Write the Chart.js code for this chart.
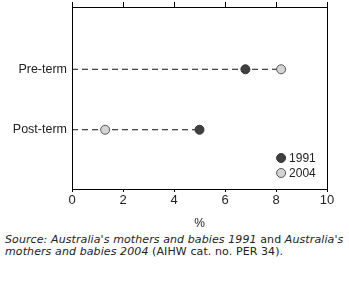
<!DOCTYPE html>
<html>
<head>
<meta charset="utf-8">
<script src="https://cdn.jsdelivr.net/npm/chart.js@4/dist/chart.umd.min.js"></script>
<style>
  html, body { margin: 0; padding: 0; background: #fff; }
  body { width: 349px; height: 286px; overflow: hidden; font-family: 'Liberation Sans', Arial, sans-serif; color: #222; }
  #wrap { position: relative; width: 349px; height: 231px; }
  #source { font-family: 'DejaVu Sans', sans-serif; font-size: 11px; line-height: 12px; margin: 3px 0 0 5px; letter-spacing: 0.1px; white-space: nowrap; }
</style>
</head>
<body>
<div id="wrap"><canvas id="chart" width="349" height="231"></canvas></div>
<div id="source"><i>Source: Australia's mothers and babies 1991</i> and <i>Australia's</i><br><i>mothers and babies 2004</i> (AIHW cat. no. PER 34).</div>
<script>
// 범주와 값
const categories = ['Pre-term', 'Post-term'];
const seriesNames = ['1991', '2004'];
const values1991 = [6.8, 5.0];
const values2004 = [8.2, 1.3];
const xTicks = [0, 2, 4, 6, 8, 10];

const darkFill = '#404040';
const lightFill = '#d4d4d4';

// category index -> y position (1, 2 ...)
const catPos = categories.map((c, i) => i + 1);

// dashed guide lines from 0 to the larger value
const guideSets = categories.map((c, i) => ({
  type: 'line',
  label: '_guide' + i,
  data: [{ x: 0, y: catPos[i] }, { x: Math.max(values1991[i], values2004[i]), y: catPos[i] }],
  borderColor: '#111',
  borderWidth: 1,
  borderDash: [6, 4],
  pointRadius: 0,
  fill: false,
  order: 3
}));

const pointSets = [
  {
    type: 'scatter',
    label: seriesNames[0],
    data: values1991.map((v, i) => ({ x: v, y: catPos[i] })),
    backgroundColor: darkFill,
    borderColor: '#333',
    borderWidth: 1,
    pointRadius: 4.5,
    order: 1
  },
  {
    type: 'scatter',
    label: seriesNames[1],
    data: values2004.map((v, i) => ({ x: v, y: catPos[i] })),
    backgroundColor: lightFill,
    borderColor: '#555',
    borderWidth: 1,
    pointRadius: 4.5,
    order: 1
  }
];

// legend inside the plot, bottom right
const innerLegend = {
  id: 'innerLegend',
  afterDraw(chart) {
    const ctx = chart.ctx;
    const area = chart.chartArea;
    const mx = chart.scales.x.getPixelForValue(8.2);
    const rows = [
      { text: seriesNames[0], fill: darkFill, stroke: '#333', y: area.bottom - 31 },
      { text: seriesNames[1], fill: lightFill, stroke: '#555', y: area.bottom - 16 }
    ];
    ctx.save();
    ctx.font = '12px "Liberation Sans", Arial, sans-serif';
    ctx.textBaseline = 'middle';
    rows.forEach(r => {
      ctx.beginPath();
      ctx.arc(mx, r.y, 4.5, 0, Math.PI * 2);
      ctx.fillStyle = r.fill;
      ctx.fill();
      ctx.lineWidth = 1;
      ctx.strokeStyle = r.stroke;
      ctx.stroke();
      ctx.fillStyle = '#222';
      ctx.fillText(r.text, mx + 8, r.y + 1);
    });
    ctx.restore();
  }
};

Chart.defaults.font.family = "'Liberation Sans', Arial, sans-serif";
Chart.defaults.font.size = 12;
Chart.defaults.color = '#222';

new Chart(document.getElementById('chart').getContext('2d'), {
  data: { datasets: [...guideSets, ...pointSets] },
  options: {
    responsive: false,
    animation: false,
    layout: { padding: { top: 2, right: 0, left: 0, bottom: 0 } },
    plugins: { legend: { display: false }, tooltip: { enabled: false } },
    scales: {
      x: {
        type: 'linear',
        position: 'bottom',
        min: 0, max: 10,
        afterBuildTicks: s => { s.ticks = xTicks.map(v => ({ value: v })); },
        ticks: { padding: 1, color: '#222', font: { size: 13 } },
        grid: { drawOnChartArea: false, drawTicks: true, tickLength: 3, color: '#000', lineWidth: 1 },
        border: { color: '#000', width: 1 },
        title: { display: true, text: '%', color: '#222', font: { size: 12 }, padding: { top: 7, bottom: 0 } }
      },
      xTop: {
        type: 'linear',
        position: 'top',
        min: 0, max: 10,
        afterBuildTicks: s => { s.ticks = xTicks.map(v => ({ value: v })); },
        ticks: { display: false },
        grid: { drawOnChartArea: false, drawTicks: true, tickLength: 5, color: '#000', lineWidth: 1 },
        border: { color: '#000', width: 1 },
        afterFit: s => { s.height = 5; }
      },
      y: {
        type: 'linear',
        position: 'left',
        reverse: true,
        min: -0.03, max: 2.98,
        afterBuildTicks: s => { s.ticks = catPos.map(v => ({ value: v })); },
        ticks: { padding: 5, color: '#222', font: { size: 12.5 }, callback: v => categories[v - 1] || '' },
        grid: { drawOnChartArea: false, drawTicks: false },
        border: { color: '#000', width: 1 },
        afterFit: s => { s.width = 72; s.paddingTop = 0; s.paddingBottom = 0; }
      },
      yRight: {
        type: 'linear',
        position: 'right',
        min: 0, max: 3,
        ticks: { display: false },
        grid: { drawOnChartArea: false, drawTicks: false },
        border: { color: '#000', width: 1 },
        afterFit: s => { s.width = 22; }
      }
    }
  },
  plugins: [innerLegend]
});
</script>
</body>
</html>
